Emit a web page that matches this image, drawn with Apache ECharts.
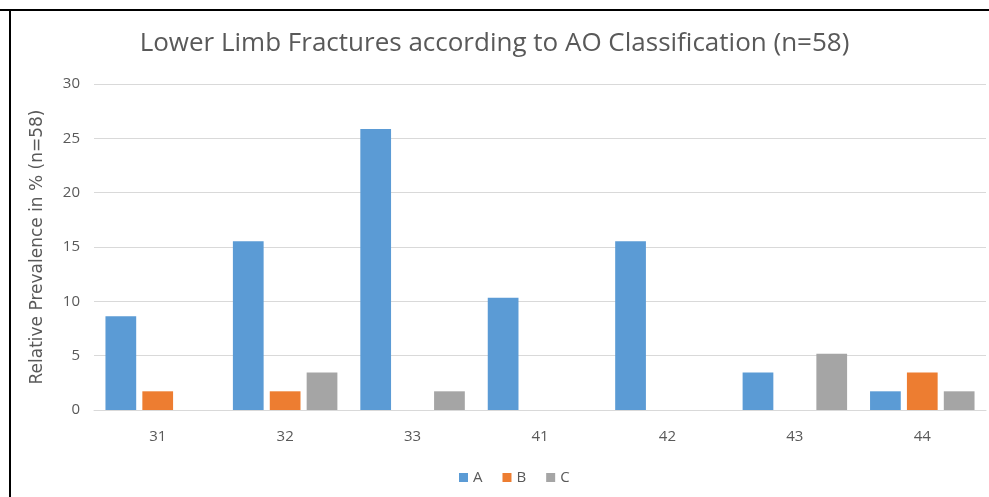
<!DOCTYPE html>
<html>
<head>
<meta charset="utf-8">
<script src="https://cdn.jsdelivr.net/npm/echarts@6/dist/echarts.min.js"></script>
<style>
  html, body { margin: 0; padding: 0; background: #ffffff; }
  #chart { width: 989px; height: 497px; }
</style>
</head>
<body>
<div id="chart"></div>
<script>
// AO fracture codes and relative prevalence (%) per group, n = 58
var categories = ['31', '32', '33', '41', '42', '43', '44'];
var seriesNames = ['A', 'B', 'C'];
var valuesA = [8.62, 15.52, 25.86, 10.34, 15.52, 3.45, 1.72];
var valuesB = [1.72, 1.72, 0, 0, 0, 0, 3.45];
var valuesC = [0, 3.45, 1.72, 0, 0, 5.17, 1.72];
var yTicks = [0, 5, 10, 15, 20, 25, 30];

var colors = ['#5B9BD5', '#ED7D31', '#A5A5A5'];
var textColor = '#595959';
var fontFamily = '"Open Sans", "Liberation Sans", sans-serif';

var chart = echarts.init(document.getElementById('chart'), null, { renderer: 'canvas' });

function barSeries(name, data, color) {
  return {
    name: name,
    type: 'bar',
    data: data,
    barGap: '20%',
    barCategoryGap: '18%',
    itemStyle: { color: color },
    emphasis: { disabled: true }
  };
}

chart.setOption({
  animation: false,
  backgroundColor: '#ffffff',
  color: colors,
  title: {
    text: 'Lower Limb Fractures according to AO Classification (n=58)',
    left: 'center',
    top: 26,
    textStyle: { color: textColor, fontSize: 26, fontWeight: 'normal', fontFamily: fontFamily }
  },
  legend: {
    data: seriesNames,
    bottom: 7,
    left: 454,
    itemWidth: 9,
    itemHeight: 9,
    itemGap: 20,
    icon: 'rect',
    textStyle: { color: textColor, fontSize: 15, fontFamily: fontFamily }
  },
  grid: { left: 94, right: 3, top: 84, bottom: 87 },
  xAxis: {
    type: 'category',
    data: categories,
    axisTick: { show: false },
    axisLine: { lineStyle: { color: '#D9D9D9', width: 1 } },
    axisLabel: { color: textColor, fontSize: 15, margin: 19, fontFamily: fontFamily }
  },
  yAxis: {
    type: 'value',
    min: yTicks[0],
    max: yTicks[yTicks.length - 1],
    interval: yTicks[1] - yTicks[0],
    name: 'Relative Prevalence in % (n=58)',
    nameLocation: 'middle',
    nameGap: 48,
    nameTextStyle: { color: textColor, fontSize: 17, fontFamily: '"DejaVu Sans", sans-serif' },
    axisLine: { show: false },
    axisTick: { show: false },
    axisLabel: { color: textColor, fontSize: 15, margin: 14, fontFamily: fontFamily },
    splitLine: { lineStyle: { color: '#D9D9D9', width: 1 } }
  },
  series: [
    barSeries(seriesNames[0], valuesA, colors[0]),
    barSeries(seriesNames[1], valuesB, colors[1]),
    barSeries(seriesNames[2], valuesC, colors[2])
  ],
  graphic: [
    { type: 'rect', shape: { x: 0, y: 9, width: 989, height: 2 }, style: { fill: '#000000' }, silent: true },
    { type: 'rect', shape: { x: 9, y: 9, width: 2, height: 488 }, style: { fill: '#000000' }, silent: true }
  ]
});
</script>
</body>
</html>
